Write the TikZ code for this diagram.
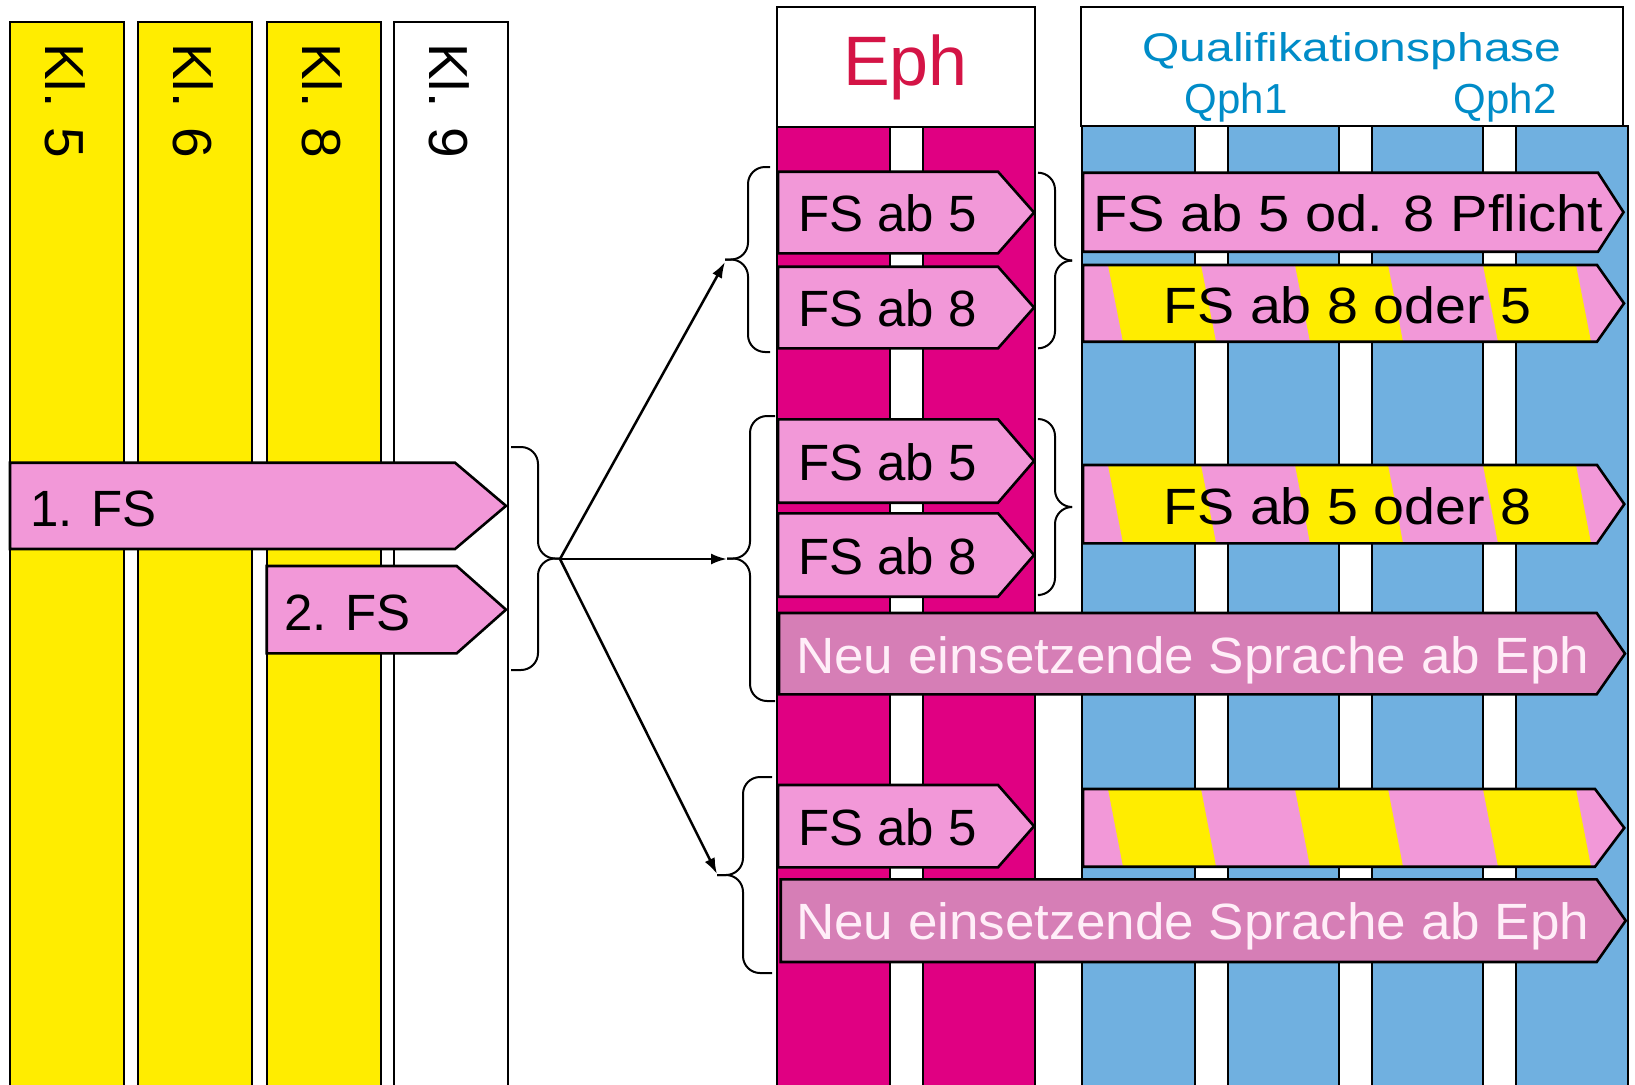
\documentclass[tikz,border=0pt]{standalone}
\usepackage{fontspec}
\setmainfont{Liberation Sans}
\usepackage{graphicx}
\usetikzlibrary{arrows.meta}

\definecolor{klgelb}{RGB}{255,237,0}
\definecolor{fsrosa}{RGB}{242,152,216}
\definecolor{neurosa}{RGB}{214,126,182}
\definecolor{neutext}{RGB}{255,238,248}
\definecolor{ephmag}{RGB}{224,0,130}
\definecolor{qphblau}{RGB}{112,176,224}
\definecolor{ephrot}{RGB}{212,20,70}
\definecolor{qphtext}{RGB}{0,140,200}

\tikzset{
rahmen/.style={draw=black, line width=2.6pt},
fsbar/.style={rahmen, fill=fsrosa},
neubar/.style={rahmen, fill=neurosa},
fstext/.style={anchor=base west, inner sep=0pt, font=\fontsize{51}{60}\selectfont},
kltext/.style={anchor=base west, inner sep=0pt, rotate=-90, font=\fontsize{55}{66}\selectfont},
kopftext/.style={anchor=base, inner sep=0pt, text=qphtext, font=\fontsize{#1}{48}\selectfont},
klammerlinie/.style={draw=black, line width=2pt, rounded corners=17pt},
pfeil/.style={line width=2.5pt, -{Latex[length=16pt,width=11pt]}}
}

\newcommand{\fspath}[5]{(#1,#2) -- (#3,#2) -- (#5,{(#2+#4)/2}) -- (#3,#4) -- (#1,#4) -- cycle}
\newcommand{\streifen}[4]{%
\begin{scope}
\clip \fspath{1083}{#1}{#3}{#2}{#4};
\fill[fsrosa] \fspath{1083}{#1}{#3}{#2}{#4};
\foreach \s in {1108,1295,1483} \fill[klgelb] (\s,#1) -- (\s+93,#1) -- (\s+108,#2) -- (\s+15,#2) -- cycle;
\end{scope}
\draw[rahmen] \fspath{1083}{#1}{#3}{#2}{#4};}
\newcommand{\klammer}[5]{%
\draw[klammerlinie] (#1,#4) -- (#2,#4) -- (#2,{(#4+#5)/2}) -- (#3,{(#4+#5)/2});
\draw[klammerlinie] (#1,#5) -- (#2,#5) -- (#2,{(#4+#5)/2}) -- (#3,{(#4+#5)/2});}

\begin{document}
\begin{tikzpicture}[x=1pt,y=-1pt]
\useasboundingbox[fill=white] (0,0) rectangle (1635,1084);

\foreach \x/\k/\f in {10/5/klgelb,138/6/klgelb,267/8/klgelb,394/9/white}{
\filldraw[rahmen, fill=\f] (\x,22) rectangle (\x+114,1100);
\node[kltext] (kl\k) at (\x+35,43) {Kl. \k};
}
\filldraw[fsbar] \fspath{10}{462.7}{455}{549}{506};
\node[fstext] (fs1) at (30,526.7) {1. FS};
\filldraw[fsbar] \fspath{266.7}{566}{456.7}{653.3}{506};
\node[fstext] (fs2) at (284,630) {2. FS};

\filldraw[rahmen, fill=ephmag] (777,127) rectangle (1035,1100);
\filldraw[rahmen, fill=white] (890,127) rectangle (923,1100);
\filldraw[rahmen, fill=white] (777,7) rectangle (1035,127);
\node[anchor=base, inner sep=0pt, text=ephrot, font=\fontsize{70}{80}\selectfont] (eph) at (905.5,85) {Eph};

\filldraw[rahmen, fill=qphblau] (1082,126) rectangle (1628,1100);
\foreach \x in {1195,1339,1483} \filldraw[rahmen, fill=white] (\x,126) rectangle (\x+33,1100);
\filldraw[rahmen, fill=white] (1081,7) rectangle (1623,126);
\node[kopftext=40] (qph) at (1352,61.7) {\scalebox{1.2}[1]{Qualifikationsphase}};
\node[kopftext=42] (qph1) at (1236,113) {Qph1};
\node[kopftext=42] (qph2) at (1505,113) {Qph2};

\foreach \o/\u/\t/\n in {171.7/253.3/5/a, 266.7/348.3/8/b, 419.3/502.7/5/c, 513.3/596.7/8/d, 785/867.3/5/e}{
\filldraw[fsbar] \fspath{778}{\o}{998}{\u}{1034};
\node[fstext] (eph\n) at (798,\u-22) {FS ab \t};
}

\filldraw[fsbar] \fspath{1083}{172.7}{1598}{251.7}{1623.5};
\node[fstext] (pflicht) at (1093,231.7) {\scalebox{1.1}[1]{FS ab 5 od. 8 Pflicht}};
\streifen{265}{341.7}{1597}{1624}
\node[fstext, anchor=base] (achtfuenf) at (1347.5,323.3) {\scalebox{1.09}[1]{FS ab 8 oder 5}};
\streifen{465}{543.3}{1597}{1624.3}
\node[fstext, anchor=base] (fuenfacht) at (1347.5,524) {\scalebox{1.09}[1]{FS ab 5 oder 8}};
\streifen{789}{866.7}{1595}{1624.3}

\filldraw[neubar] \fspath{779}{613}{1596.7}{694.3}{1625};
\node[fstext, text=neutext] (neua) at (796,673.3) {\scalebox{1.04}[1]{Neu einsetzende Sprache ab Eph}};
\filldraw[neubar] \fspath{780.7}{879.3}{1596.7}{962}{1625.7};
\node[fstext, text=neutext] (neub) at (796,939.3) {\scalebox{1.04}[1]{Neu einsetzende Sprache ab Eph}};

\klammer{511}{538}{560}{447}{670}
\klammer{770}{748}{725}{167}{352}
\klammer{775}{750}{727}{416}{701}
\klammer{772}{743}{717}{777}{973}
\klammer{1038}{1055}{1070}{172.7}{348.3}
\klammer{1040}{1055}{1071.7}{419}{595}

\coordinate (quelle) at (560,559);
\coordinate (ziela) at (725,262);
\coordinate (zielb) at (727,559);
\coordinate (zielc) at (717,874);
\draw[pfeil] (quelle) -- (ziela);
\draw[pfeil] (quelle) -- (zielb);
\draw[pfeil] (quelle) -- (zielc);
\end{tikzpicture}
\end{document}
